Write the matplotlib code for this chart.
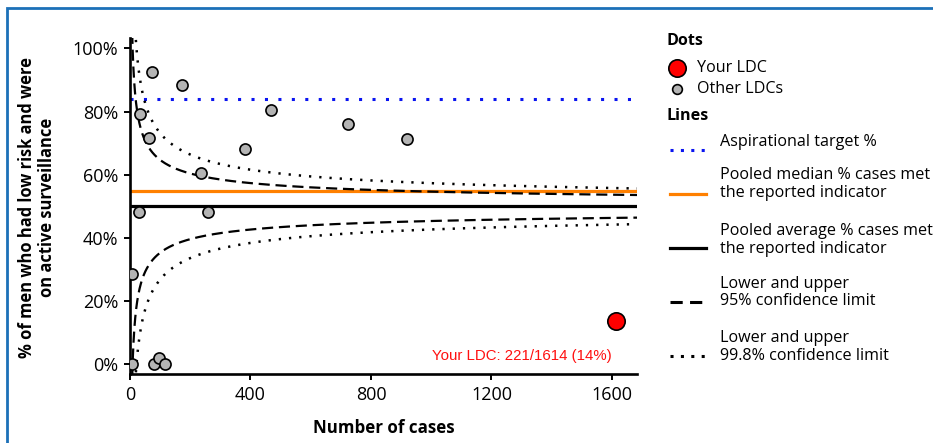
import numpy as np
import matplotlib
matplotlib.use("Agg")
import matplotlib.pyplot as plt

W, H = 933, 443

# LDC results: number of cases and % on active surveillance
other_n = [5, 7, 31, 33, 63, 72, 81, 96, 116, 173, 235, 260, 382, 467, 725, 918]
other_pct = [0, 28.6, 48.3, 79.1, 71.5, 92.5, 0, 2.0, 0, 88.5, 60.7, 48.3, 68.2, 80.4, 76.2, 71.3]
your_n = 1614
your_met = 221
your_pct = 100.0 * your_met / your_n

target_pct = 84
pooled_median = 55
pooled_avg = 50
z95 = 1.96
z998 = 3.09
overdispersion = 1.5

x_ticks = [0, 400, 800, 1200, 1600]
y_ticks = [0, 20, 40, 60, 80, 100]

plt.rcParams['font.family'] = ['Open Sans', 'DejaVu Sans']

fig = plt.figure(figsize=(W / 100, H / 100), dpi=100)
ax = fig.add_axes([130 / W, 1 - 374 / H, (637 - 130) / W, (374 - 38) / H])

xmax = 1683
n = np.linspace(1, xmax, 3000)
p = pooled_avg / 100.0
se = overdispersion * np.sqrt(p * (1 - p) / n) * 100

ax.axhline(target_pct, color='#0a14f0', lw=2.2, dashes=(1, 3.4), zorder=2)
ax.axhline(pooled_median, color='#ff8000', lw=2.3, zorder=2)
ax.axhline(pooled_avg, color='black', lw=2.3, zorder=2)
for sign in (1, -1):
    ax.plot(n, pooled_avg + sign * z95 * se, color='black', lw=1.6, dashes=(5, 2.6), zorder=2)
    ax.plot(n, pooled_avg + sign * z998 * se, color='black', lw=1.8, dashes=(0.9, 3.2), zorder=2)

ax.plot(other_n, other_pct, 'o', ms=8, mfc='#b4b4b4', mec='black', mew=1.2, zorder=3)
ax.plot([your_n], [your_pct], 'o', ms=12.5, mfc='#ff0000', mec='black', mew=1.2, zorder=3)
ax.annotate('Your LDC: %d/%d (%d%%)' % (your_met, your_n, round(your_pct)),
            (your_n, 2.6), xytext=(-3, 0), textcoords='offset points',
            ha='right', va='center', color='#ff1010', fontsize=10.8,
            family=['Liberation Sans', 'DejaVu Sans'])

ax.set_xlim(0, xmax)
ax.set_ylim(-3.1, 103.3)
ax.set_xticks(x_ticks)
ax.set_yticks(y_ticks)
ax.set_yticklabels(['%d%%' % v for v in y_ticks])
for s in ('top', 'right'):
    ax.spines[s].set_visible(False)
for s in ('left', 'bottom'):
    ax.spines[s].set_linewidth(1.9)
ax.tick_params(length=4.5, width=1.4, labelsize=13, pad=4, colors='black')

fig.text(37 / W, 1 - 207 / H, '% of men who had low risk and were\non active surveillance',
         rotation=90, ha='center', va='center', multialignment='center',
         fontsize=11.9, fontweight='bold', linespacing=1.1)
fig.text(384 / W, 1 - 428 / H, 'Number of cases', ha='center', va='center',
         fontsize=12.2, fontweight='bold')

# overlay in pixel coordinates for border and legend
lax = fig.add_axes([0, 0, 1, 1])
lax.set_xlim(0, W)
lax.set_ylim(H, 0)
lax.axis('off')
lax.plot([7, 7, W + 5], [H + 5, 8, 8], color='#1c70b8', lw=2, solid_joinstyle='miter')

fs = 11.6
lax.text(667, 41, 'Dots', fontsize=fs, fontweight='bold', va='center')
lax.plot([677], [68], 'o', ms=12.5, mfc='#ff0000', mec='black', mew=1.2)
lax.text(697, 68, 'Your LDC', fontsize=fs, va='center')
lax.plot([677], [89], 'o', ms=7, mfc='#b4b4b4', mec='black', mew=1.2)
lax.text(697, 89, 'Other LDCs', fontsize=fs, va='center')
lax.text(667, 116, 'Lines', fontsize=fs, fontweight='bold', va='center')

entries = [
    (150, 142, 'Aspirational target %', dict(color='#0a14f0', lw=2.2, dashes=(1, 2.4))),
    (194, 184, 'Pooled median % cases met\nthe reported indicator', dict(color='#ff8000', lw=2.3)),
    (248, 240, 'Pooled average % cases met\nthe reported indicator', dict(color='black', lw=2.3)),
    (302, 292.5, 'Lower and upper\n95% confidence limit', dict(color='black', lw=2.2, dashes=(4, 2.4))),
    (356, 347, 'Lower and upper\n99.8% confidence limit', dict(color='black', lw=2.2, dashes=(1, 2.4))),
]
for ly, ty, label, style in entries:
    lax.plot([670, 706], [ly, ly], **style)
    lax.text(720, ty, label, fontsize=fs, va='center', linespacing=1.1)

fig.savefig('out.png', dpi=100)
